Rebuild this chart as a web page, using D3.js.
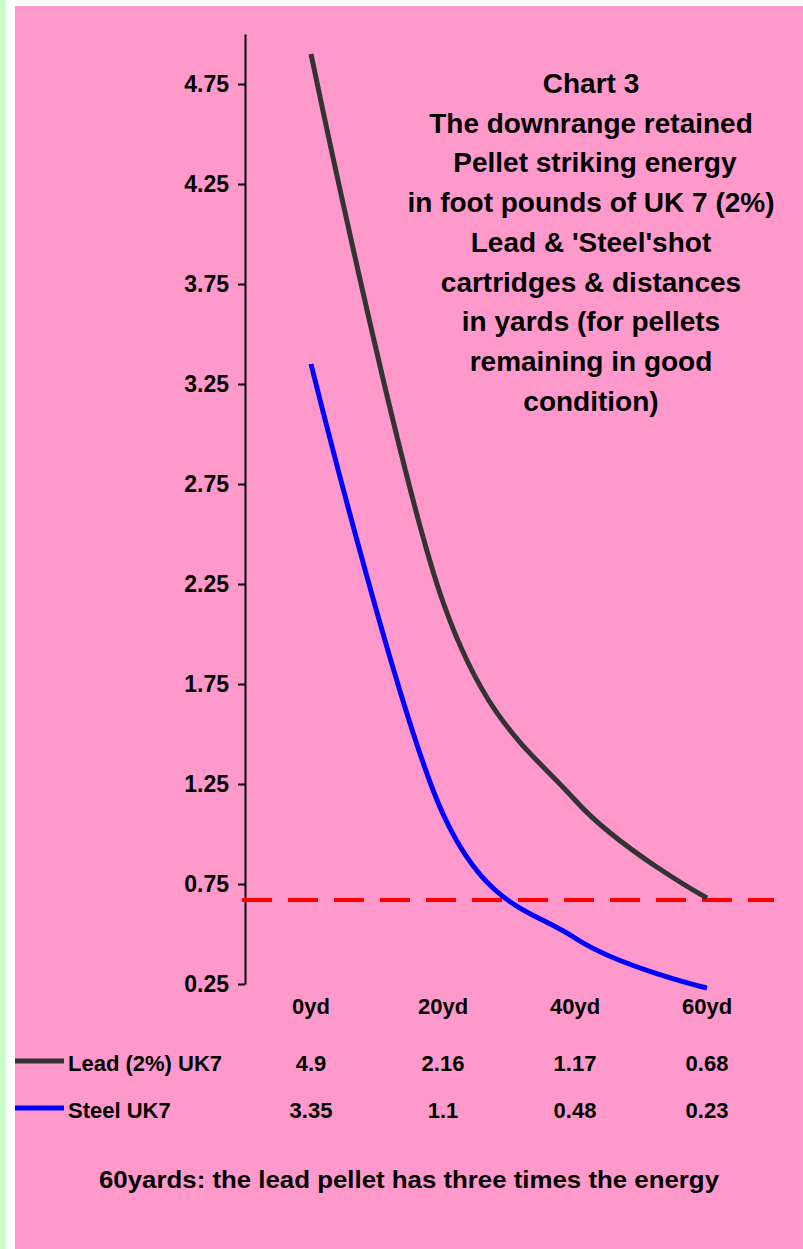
<!DOCTYPE html>
<html><head><meta charset="utf-8">
<script src="https://cdn.jsdelivr.net/npm/d3@7"></script>
<style>
html,body{margin:0;padding:0;background:#fff;}
svg{display:block;}
text{font-family:"Liberation Sans",Arial,sans-serif;font-weight:bold;fill:#000;}
</style>
</head><body>
<svg id="chart" width="803" height="1249"></svg>
<script>
// ---- data ----
const categories = ["0yd", "20yd", "40yd", "60yd"];
const leadValues = [4.9, 2.16, 1.17, 0.68];
const steelValues = [3.35, 1.1, 0.48, 0.23];
const seriesNames = ["Lead (2%) UK7", "Steel UK7"];
const yTicks = [0.25, 0.75, 1.25, 1.75, 2.25, 2.75, 3.25, 3.75, 4.25, 4.75];
const thresholdValue = 0.67;
const titleLines = ["Chart 3", "The downrange retained", " Pellet striking energy",
  "in foot pounds of UK 7 (2%)", "Lead & 'Steel'shot", "cartridges & distances",
  "in yards (for pellets", "remaining in good", "condition)"];
const footnote = "60yards: the lead pellet has three times the energy";

// ---- drawing ----
const svg = d3.select("#chart");
svg.append("rect").attr("x", 0).attr("y", 0).attr("width", 6).attr("height", 1249).attr("fill", "#ccffcc");
svg.append("rect").attr("x", 15).attr("y", 6).attr("width", 788).attr("height", 1243).attr("fill", "#ff99cc");

const x = d3.scaleBand().domain(categories).range([245, 773]).padding(0);
const cx = c => x(c) + x.bandwidth() / 2;
const y = d3.scaleLinear().domain([0.25, 5]).range([984, 34]);

// y axis
const yAxis = d3.axisLeft(y).tickValues(yTicks).tickSize(7).tickSizeOuter(0).tickPadding(9)
  .tickFormat(d3.format(".2f"));
const ga = svg.append("g").attr("transform", "translate(245,0)").call(yAxis);
ga.select(".domain").attr("stroke", "#000").attr("stroke-width", 2);
ga.selectAll(".tick line").attr("stroke", "#000").attr("stroke-width", 2);
ga.selectAll(".tick text").style("font-size", "23px").style("font-family", "'Liberation Sans',Arial,sans-serif")
  .style("font-weight", "bold").attr("fill", "#000");

// threshold dashed line
svg.append("line")
  .attr("x1", 242).attr("x2", 774)
  .attr("y1", y(thresholdValue)).attr("y2", y(thresholdValue))
  .attr("stroke", "#ff0000").attr("stroke-width", 4).attr("stroke-dasharray", "30,16");

// series lines
const line = d3.line().x((d, i) => cx(categories[i])).y(d => y(d)).curve(d3.curveCardinal.tension(0));
svg.append("path").datum(leadValues).attr("d", line).attr("fill", "none")
  .attr("stroke", "#333333").attr("stroke-width", 5);
svg.append("path").datum(steelValues).attr("d", line).attr("fill", "none")
  .attr("stroke", "#0000ff").attr("stroke-width", 5);

// category labels
svg.append("g").selectAll("text").data(categories).join("text")
  .attr("x", d => cx(d)).attr("y", 1014).attr("text-anchor", "middle")
  .style("font-size", "22px").text(d => d);

// data table rows
const rows = [
  { name: seriesNames[0], values: leadValues, color: "#333333", y: 1071, keyY: 1061 },
  { name: seriesNames[1], values: steelValues, color: "#0000ff", y: 1118, keyY: 1108 }
];
rows.forEach(r => {
  svg.append("line").attr("x1", 15).attr("x2", 64).attr("y1", r.keyY).attr("y2", r.keyY)
    .attr("stroke", r.color).attr("stroke-width", 5);
  svg.append("text").attr("x", 68).attr("y", r.y).style("font-size", "22px").text(r.name);
  svg.append("g").selectAll("text").data(r.values).join("text")
    .attr("x", (d, i) => cx(categories[i])).attr("y", r.y).attr("text-anchor", "middle")
    .style("font-size", "22px").text(d => String(d));
});

// footnote
svg.append("text").attr("x", 409).attr("y", 1188).attr("text-anchor", "middle")
  .attr("textLength", 620).attr("lengthAdjust", "spacingAndGlyphs")
  .style("font-size", "23px").text(footnote);

// title
const tt = svg.append("text").attr("text-anchor", "middle").style("font-size", "28px");
titleLines.forEach((t, i) => {
  tt.append("tspan").attr("x", 591).attr("y", 93 + i * 39.7).attr("xml:space", "preserve").text(t);
});
</script>
</body></html>
